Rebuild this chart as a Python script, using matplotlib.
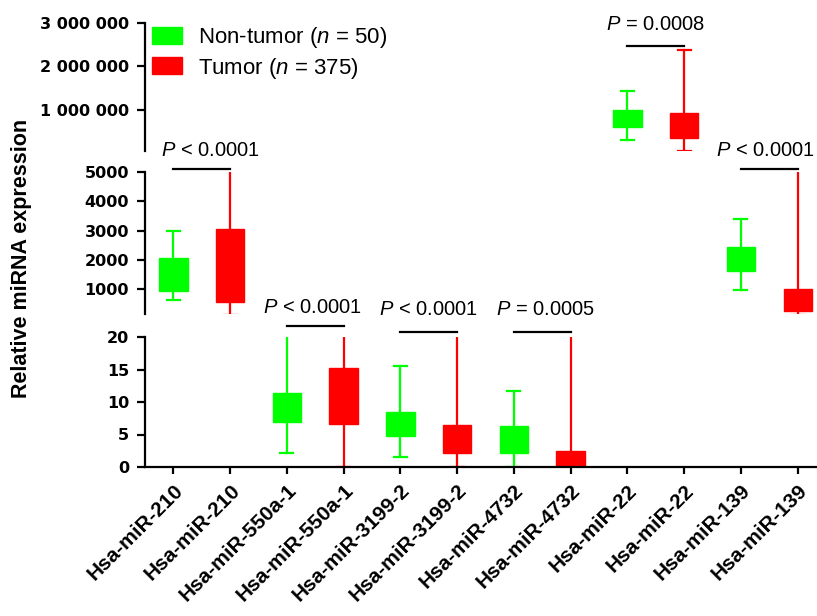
import matplotlib
matplotlib.use('Agg')
import matplotlib.pyplot as plt
from matplotlib.patches import Patch

plt.rcParams['font.family'] = ['Liberation Sans', 'DejaVu Sans']
plt.rcParams['mathtext.fontset'] = 'custom'
plt.rcParams['mathtext.rm'] = 'Liberation Sans'
plt.rcParams['mathtext.it'] = 'Liberation Sans:italic'

GREEN = '#00ff00'
RED = '#ff0000'
TICKFONT = 'DejaVu Sans'

# categories (one per box)
labels = ['Hsa-miR-210', 'Hsa-miR-210', 'Hsa-miR-550a-1', 'Hsa-miR-550a-1',
          'Hsa-miR-3199-2', 'Hsa-miR-3199-2', 'Hsa-miR-4732', 'Hsa-miR-4732',
          'Hsa-miR-22', 'Hsa-miR-22', 'Hsa-miR-139', 'Hsa-miR-139']
groups = ['non', 'tumor'] * 6

# box statistics: low whisker, q1, median, q3, high whisker
whislo = [620, 120, 2.2, 0, 1.5, 0, 0, 0, 300000, 60000, 976, 130]
q1 = [940, 545, 6.9, 6.6, 4.8, 2.2, 2.1, 0, 600000, 350000, 1626, 260]
med = [1500, 1500, 9, 10, 6.5, 4, 4, 1, 800000, 650000, 2000, 600]
q3 = [2070, 3050, 11.4, 15.3, 8.5, 6.5, 6.3, 2.5, 1000000, 924000, 2425, 990]
whishi = [2980, 5200, 22, 22, 15.6, 22, 11.7, 22, 1444000, 2370000, 3383, 5200]

# significance annotations: left box index, panel, bar height, text x, text height, text
sig_left = [0, 2, 4, 6, 8, 10]
sig_panel = ['mid', 'low', 'low', 'low', 'top', 'mid']
sig_bar_y = [5100, 21.7, 20.7, 20.7, 2480000, 5100]
sig_txt_x = [0.65, 2.45, 4.5, 6.55, 8.5, 10.43]
sig_txt_y = [5750, 24.6, 24.3, 24.3, 2970000, 5750]
sig_txt = [r'$P$ < 0.0001', r'$P$ < 0.0001', r'$P$ < 0.0001', r'$P$ = 0.0005',
           r'$P$ = 0.0008', r'$P$ < 0.0001']

top_ticks = [1000000, 2000000, 3000000]
top_ticklabels = ['1 000 000', '2 000 000', '3 000 000']
mid_ticks = [1000, 2000, 3000, 4000, 5000]
low_ticks = [0, 5, 10, 15, 20]

W, H = 817, 616
fig = plt.figure(figsize=(W / 100, H / 100), dpi=100)


def fig_box(top_px, bot_px):
    return [145 / W, 1 - bot_px / H, 672 / W, (bot_px - top_px) / H]


ax_top = fig.add_axes(fig_box(23, 151))
ax_mid = fig.add_axes(fig_box(172, 314))
ax_low = fig.add_axes(fig_box(337, 467))
axes = {'top': ax_top, 'mid': ax_mid, 'low': ax_low}

stats = []
for i in range(len(labels)):
    stats.append(dict(whislo=whislo[i], q1=q1[i], med=med[i], q3=q3[i],
                      whishi=whishi[i], label=labels[i]))
colors = [GREEN if g == 'non' else RED for g in groups]
pos = list(range(len(labels)))

for ax in axes.values():
    for i, st in enumerate(stats):
        c = colors[i]
        ax.bxp([st], positions=[pos[i]], widths=0.5, capwidths=0.23,
               patch_artist=True, showfliers=False,
               boxprops=dict(facecolor=c, edgecolor=c, linewidth=1),
               medianprops=dict(color=c, linewidth=1),
               whiskerprops=dict(color=c, linewidth=1.6),
               capprops=dict(color=c, linewidth=1.6))
    ax.set_xlim(-0.5, 11.34)
    for s in ['top', 'right', 'bottom']:
        ax.spines[s].set_visible(False)
    ax.spines['left'].set_linewidth(1.6)
    ax.tick_params(axis='y', width=1.6, length=5.5, pad=6)
    ax.tick_params(axis='x', bottom=False, labelbottom=False)

ytick_kw = dict(fontweight='bold', fontsize=11.5, family=TICKFONT)
ax_top.set_ylim(50000, 3000000)
ax_top.set_yticks(top_ticks)
ax_top.set_yticklabels(top_ticklabels, **ytick_kw)
ax_mid.set_ylim(150, 5000)
ax_mid.set_yticks(mid_ticks)
ax_mid.set_yticklabels([str(t) for t in mid_ticks], **ytick_kw)
ax_low.set_ylim(0, 20)
ax_low.set_yticks(low_ticks)
ax_low.set_yticklabels([str(t) for t in low_ticks], **ytick_kw)

ax_low.spines['bottom'].set_visible(True)
ax_low.spines['bottom'].set_linewidth(1.6)
ax_low.tick_params(axis='x', bottom=True, labelbottom=True, width=1.6,
                   length=5, pad=5)
ax_low.set_xticks(pos)
ax_low.set_xticklabels(labels, rotation=45, ha='right', rotation_mode='anchor',
                       fontweight='bold', fontsize=15)

for k in range(len(sig_left)):
    ax = axes[sig_panel[k]]
    a = sig_left[k]
    ax.plot([a, a + 1], [sig_bar_y[k], sig_bar_y[k]], color='black', lw=1.6,
            clip_on=False)
    ax.text(sig_txt_x[k], sig_txt_y[k], sig_txt[k], ha='center', va='center',
            fontsize=14.5, clip_on=False)

fig.text(22 / W, 1 - 258 / H, 'Relative miRNA expression', rotation=90,
         ha='center', va='center', fontsize=15.5, fontweight='bold')

handles = [Patch(facecolor=GREEN, edgecolor=GREEN),
           Patch(facecolor=RED, edgecolor=RED)]
fig.legend(handles, [r'Non-tumor ($n$ = 50)', r'Tumor ($n$ = 375)'],
           loc='upper left', bbox_to_anchor=(152 / W, 1 - 25 / H),
           frameon=False, fontsize=16, handlelength=1.35, handleheight=0.8,
           handletextpad=0.7, labelspacing=0.25, borderpad=0, borderaxespad=0)

fig.savefig('out.png', dpi=100)
